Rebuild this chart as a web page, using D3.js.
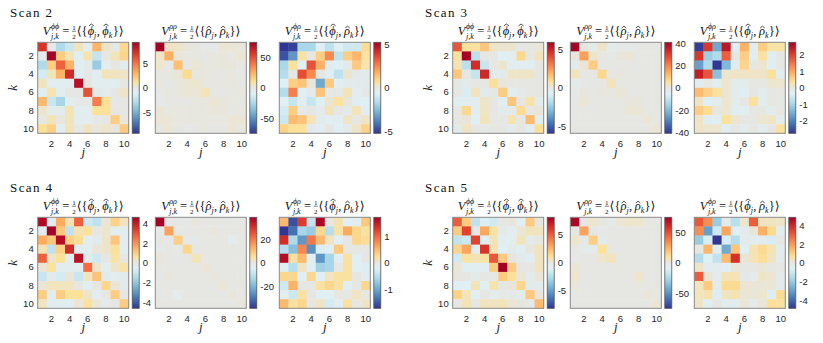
<!DOCTYPE html>
<html>
<head>
<meta charset="utf-8">
<script src="https://cdn.jsdelivr.net/npm/d3@7"></script>
<style>
body { margin: 0; background: #fff; }
svg text { fill: #262626; }
</style>
</head>
<body>
<div id="chart"></div>
<script>
// ---- data ----
const scanNames = ["Scan 2", "Scan 3", "Scan 4", "Scan 5"];
const pairLabels = [["ϕ", "ϕ"], ["ρ", "ρ"], ["ϕ", "ρ"]];
const idx = [1, 2, 3, 4, 5, 6, 7, 8, 9, 10];
const jTicks = [2, 4, 6, 8, 10];
const kTicks = [2, 4, 6, 8, 10];

const climScan2 = [9.3, 74, 5.2];
const climScan3 = [5.9, 41, 2.77];
const climScan4 = [4.6, 39, 1.7];
const climScan5 = [8.1, 74, 4.87];

const cbTicksScan2 = [[-5, 0, 5], [-50, 0, 50], [-5, 0, 5]];
const cbTicksScan3 = [[-5, 0, 5], [-40, -20, 0, 20, 40], [-2, -1, 0, 1, 2]];
const cbTicksScan4 = [[-4, -2, 0, 2, 4], [-20, 0, 20], [-1, 0, 1]];
const cbTicksScan5 = [[-5, 0, 5], [-50, 0, 50], [-4, -2, 0, 2, 4]];

const scan2PhiPhi = [
  [7.2, -0.3, -3, -2, 0.6, -0.9, 2.9, 0.5, -0.3, 1.6],
  [-0.4, 9.3, 2, 0.8, -1, 0.9, -2.2, 0, 0.7, 1.7],
  [-3, 2, 5.6, 3, -0.9, -0.4, -3.8, -0.8, 0, -0.7],
  [-1.6, 0.7, 3, 7.5, -1, -0.2, -0.9, 0.7, 0.6, 0.5],
  [0.6, -0.8, -0.9, -0.8, 8.6, 0.1, -0.8, -0.8, -0.8, 0],
  [-0.9, 0.9, -0.9, 0, 0, 6.2, -0.3, -0.6, 0, 0.5],
  [2.8, -2, -3.3, -0.8, -0.2, -0.2, 4.7, 1.3, -0.2, 0],
  [0.4, -0.7, -0.7, 0.8, -0.8, -0.8, 1.3, 1.3, 0, 0],
  [0, 0.7, 0.1, 0.7, -0.8, -0.8, -0.2, 0, 2, 0.1],
  [1.3, 1.9, -0.9, 0.7, -0.2, 0.6, 0.1, 0.4, 0.2, 2.1]
];
const scan2RhoRho = [
  [74, 4, 4, 1, 0.5, -2, -1.5, 2, 2, 0.5],
  [4, 25, 1, 0.5, 0.5, -0.5, 0.5, 1, 0.5, 2],
  [3, -2, 20, -1, 2, 0.5, 0.5, 1, 1, 0],
  [0, 0.5, 2, 12, 0.5, 0.5, 0.5, 0, 0.5, -2],
  [0.5, -1, 0.5, 2, 3, 0.5, 0, 0.5, 0.5, 0],
  [-1.5, 0.5, 0.5, 2, 2, 6, 0, 0, 0.5, 0.5],
  [-1.5, 0, 0, 0, 0.5, 0.5, 2, 1, 0.5, 0],
  [2, 0.5, 0.5, 0.5, 0.5, 0.5, 1, 1, 0, 0.5],
  [2, 2, 0.5, 0.5, 0.5, 0.5, 0.5, 0.5, 2, 2],
  [0.5, 2, 0, -2, 0, 0.5, 0, 0, 2, 0.5]
];
const scan2PhiRho = [
  [-5.2, -5, -1.8, -1.8, -0.6, -1.4, -0.6, -1, -1, 0.8],
  [-4.7, -3.4, 0.6, 0, 1.1, 2.4, -1.3, 1.1, 1.6, 0.6],
  [-1.8, 0.7, -0.7, 3.4, 1.7, -0.4, -0.6, -0.3, 1.2, 0.5],
  [-1.6, 0, 3.5, 2.4, 0, -0.6, -1.4, 0.2, -0.2, -0.3],
  [-0.7, 1.1, 1.3, 0.1, -3, 1.2, -0.6, -0.3, -0.3, -0.3],
  [-1.6, 2.6, -0.6, -0.3, 1.3, -0.2, 0, 0.4, -0.5, -0.1],
  [-0.6, -1.2, -0.5, -1.2, -0.7, 0.2, 0.6, 0.1, -0.5, -0.6],
  [-0.9, 1.1, -0.3, 0, -0.3, 0.4, 0, -0.3, 0.4, -0.5],
  [-1.1, 1.5, 1.3, 0.4, -0.3, -0.5, -0.5, 0.3, 0, 0.3],
  [1, 0.7, 0.7, -0.3, -0.5, 0, -0.6, -0.3, 0.3, 1]
];

const scan3PhiPhi = [
  [3.8, 0.7, 0.7, 1.4, 0.3, 0.2, 0.2, 0, 0, 0.1],
  [0.7, 5.9, -1.6, 0, 0, -0.7, -0.5, 1, 0, 0.4],
  [0.5, -1.6, 4.7, -1.3, 0, 0.2, -0.5, -0.5, -0.6, 0],
  [1.4, 0, -1.4, 4.8, -0.3, -0.3, 0.3, 0.3, 0.3, 0],
  [0, -0.3, 0, 0, 0.8, 0.1, 0, 0, 0, 0],
  [0, -0.9, 0.4, -0.3, 0, 1.3, -0.5, -0.3, 0, 0],
  [-0.5, -0.5, -0.6, 0.3, 0, -0.5, 1.4, 0, 0.6, -0.3],
  [0, 1, -0.5, 0.3, 0, -0.3, -0.3, 0.9, 0, 0.1],
  [0, 0.1, -0.7, 0.4, 0, 0, 0.5, 0, 1.7, -0.5],
  [-0.3, 0.3, 0, -0.2, 0, 0, -0.3, 0, -0.5, 0.8]
];
const scan3RhoRho = [
  [41, 0.5, -2, 2, -2, -1.5, -1.5, 0, 0, 0],
  [0.5, 16, 2, 0, -1, 0.5, 1, 0, 0, 0],
  [-2, 1, 9, 0, 0, 0, 0, -0.5, 0, 0],
  [3, 0, 0, 7, 0, 0.5, 0, 0, 0, 0],
  [-2, -1, 0, 0, 3, 0, 0, 0, 0, 0],
  [-1.5, 0.5, 0, 0.5, 0, 1, 0, 0, 0, 0],
  [-0.5, 1, 0, 0, 0, 0, 0.5, 0.5, 0, 0],
  [0, 0, -0.5, 0, 0, 0, 1, 1, 0, 0],
  [0, 0, 0, 0, 0, 0, 0, 0, 1, 0],
  [0, 0, 0, 0, 0, 0, 0, 0, 0, 1]
];
const scan3PhiRho = [
  [-2.7, 2.1, -1.6, 2.5, -0.3, 0.9, -0.3, 0.6, 0.3, 0.3],
  [2.1, -1.1, -0.9, 1.7, 0, 0.6, -0.3, 0.3, -0.3, 0],
  [-1.7, -0.9, -2.77, -1.4, -0.2, 0.5, 0, 0.1, -0.3, 0],
  [2.4, 1.8, -1.3, 0.1, 0.15, 0.15, 0.15, 0.15, 0.35, -0.3],
  [-0.2, 0, -0.3, 0.1, -0.2, -0.2, 0, 0, 0.1, 0.1],
  [0.8, 0.55, 0.35, 0.1, -0.2, -0.3, 0, -0.2, 0, 0],
  [0.15, -0.3, -0.2, 0.1, -0.2, 0, 0.35, -0.2, 0, 0],
  [0.6, 0.4, 0, 0.1, -0.3, -0.3, 0, 0, -0.2, 0],
  [0.15, -0.3, -0.3, 0.35, 0.1, 0, 0, 0.1, 0.15, -0.2],
  [0.15, 0.1, 0.1, -0.3, 0, -0.2, 0, -0.2, 0, 0.35]
];

const scan4PhiPhi = [
  [4.4, -0.5, 1.6, 0.4, 2.8, -0.9, -1.2, 0.1, 0.9, 0.3],
  [-0.5, 4.6, 1.1, -1.2, 0.4, 0.6, 0, 0.2, -0.4, -0.4],
  [1.6, 1.1, 4.3, 0.9, 0.7, -0.4, -0.3, 0.2, 1.1, -0.4],
  [0.4, -1.2, 0.9, 3.7, -0.4, -0.4, 0.1, 0.2, 0.6, -0.4],
  [2.8, 0.2, 0.6, -0.4, 4.2, -0.3, -0.9, 0, 0.5, 0],
  [0.1, 0.6, -0.4, -0.4, -0.4, 2.6, 0.2, -0.4, 0.2, 0.5],
  [-1, -0.3, -0.8, 0.1, -1, 0.3, 1.2, -0.3, -0.4, -0.3],
  [0.1, 0.3, 0.3, 0.3, 0, -0.4, 0, 0.8, 0.1, -0.3],
  [1, -0.4, 1, 0.6, 0.6, 0.2, -0.4, 0, 1, 0],
  [0.3, -0.4, -0.4, -0.5, 0.1, 0.6, 0.1, -0.2, 0, 1]
];
const scan4RhoRho = [
  [39, -1, 0, -1.5, 0.5, 0, 0, 0, -0.5, 0],
  [-1, 15, -1.5, 0, 0, 0, 0.5, 0, 0, 0],
  [0, -1.5, 8, -1.5, -1.5, 0, 0, 0, -2.5, 0],
  [-1.5, 0, -1.5, 7, 0, -0.5, 0, 0, 0, 0],
  [0.5, 0, -0.5, 0, 3, 0, 0, 0, 0, 0],
  [0, 0, 0, 0, 0, 1, 0, 0, 0, 0],
  [-0.5, 0.5, 0, 0, 0, 0, 0.5, 0, 0, 0],
  [0, 0, 0, 0, 0, 0, 0, 1, 0, 0],
  [-0.5, 0, -2.5, 0, 0, 0, 0, 0, 0.5, 0],
  [0, 0, 0, 0, 0, 0, 0, 0, 0, 0.5]
];
const scan4PhiRho = [
  [0.5, -1.55, 1.25, -0.4, 1.65, 0, 0.15, -0.2, -0.15, 0.4],
  [-1.7, -1.35, -0.6, -0.7, 0.3, -0.5, 0.2, 0.6, 0.3, 0.2],
  [1.35, -0.55, -1.1, 0.9, 0.5, 0.1, -0.2, 0, 0.3, 0.25],
  [-0.5, -0.8, 0.8, -1.15, -0.25, -0.2, 0.4, 0, 0, 0],
  [1.6, 0.2, 0.5, -0.2, -1.1, -0.6, -0.15, 0.2, -0.2, 0],
  [-0.15, -0.5, 0.1, -0.2, -0.65, -0.6, 0, 0.2, -0.2, -0.25],
  [0.3, 0.3, -0.2, 0.3, -0.2, 0.1, 0.2, 0.2, 0, -0.15],
  [-0.35, 0.55, 0, 0, 0.2, 0.3, 0.2, -0.2, 0, 0.3],
  [-0.15, -0.35, 0.2, 0, -0.2, -0.2, 0, 0, 0.1, 0],
  [0.5, 0.2, 0.3, 0, 0.1, -0.3, -0.15, 0.2, 0, 0.1]
];

const scan5PhiPhi = [
  [5, 1.8, -2, -1.2, -1.5, 0, 0.1, -0.9, 1.8, 0.1],
  [1.8, 5.8, -0.3, 2.9, 0.9, -0.4, -0.7, 0.2, 0.6, 0.5],
  [-2, -1.7, 5.8, -0.8, 0.6, -0.8, -0.8, 0.6, -0.4, 0],
  [1.5, 3, -0.7, 6.2, 0.7, -1, -0.4, -0.8, 0.1, 0.5],
  [-1.5, 0.9, 0.7, 0.9, 5.2, 1.8, 0.1, -0.4, -0.8, 0.5],
  [0.2, -0.8, -0.8, -0.8, 1.8, 8.1, 1.8, 0, 0, 0.5],
  [0.1, 0, -0.4, 0, -0.2, 1.8, 1.1, 0.2, -0.4, 0.2],
  [-1, -1, 0.6, -0.9, 0.8, 0, 0.1, 1.4, -0.4, -0.4],
  [1.6, 0.6, -1, 0, -0.6, -0.3, -0.3, -0.6, 1.9, 0.1],
  [0, 0.6, 0, 0.5, 0.5, 0.6, 0.2, 0.1, -0.3, 2.3]
];
const scan5RhoRho = [
  [72, 0, 3, 0.5, -3, 2, 3, 3, 0, 0],
  [0, 28, 0, -2, 0, 0, 0, 0, 0, 0],
  [3, -2, 16, -3, 0, 0, 0, 0, 0, 0],
  [0, -3, -4, 10, 0, 0, 0, 0, 0, 0],
  [-1.5, 0, 0, 3, 5, 0, 0, 0, 0, 0],
  [2, 0, 0, 0, 0, 0.5, 0, 0, 0, 0],
  [3, 0, 0, 0, 0, 0, 0, 3, 0, 0],
  [1, 0, 0, 0, 0, 0, 0, 0.5, 0, 0],
  [0, 0, 0, 0, 0, 0, 0, 0, 1.5, 0],
  [0, 0, 0, 0, 0, 0, 0, 0, 0, 2]
];
const scan5PhiRho = [
  [3.1, 2.2, -2, -0.2, -1.4, 0.2, 3, 0.3, 0.3, 0.25],
  [2.2, -3, -1, 1.8, -0.6, -0.4, 0.1, 1.6, 0.8, -0.5],
  [-2, -0.8, -4.87, -0.8, -1.5, -0.4, -0.4, -0.4, -0.8, 0],
  [0, 1.5, -0.5, -2.8, 1.2, -0.6, 0.4, 0.8, 0.4, -0.4],
  [-1.5, -0.6, -1.2, 1.4, 3.8, 0.1, 0.4, 0.7, 0.3, -0.4],
  [0.25, -0.4, -0.4, -0.6, 0.1, 0, 0, 0.1, 0, 0],
  [3, 0.15, -0.4, 0.4, 0.4, -0.1, -0.3, 0.25, 0.15, -0.2],
  [0.35, 1.1, -0.3, 0.8, 0.8, 0.15, 0.1, 0.1, 0.1, -0.2],
  [0.35, 0.45, -0.7, 0.3, 0.45, 0.1, 0.1, 0.15, -0.7, 0.8],
  [0.25, -0.5, 0, -0.4, -0.4, 0.1, -0.2, 0.1, 0.7, 0.6]
];

// diverging map, blue -> grey -> red
const cmapStops = [-1, -0.78, -0.56, -0.34, -0.13, 0, 0.13, 0.34, 0.56, 0.78, 1];
const cmapColors = ["#313695", "#4575b4", "#74add1", "#abd9e9", "#dff0f5", "#e6e6e3",
                    "#fbe29a", "#fdae61", "#f46d43", "#d73027", "#a50026"];

// ---- layout ----
const W = 823, H = 343;
const size = 91;
const panelLeft = [37.7, 155.3, 279.3];
const panelTop = 42.3;
const blockX = [0, 415, 0, 415];
const blockY = [0, 0, 175, 175];
const serif = "Liberation Serif, DejaVu Serif, serif";
const sans = "Liberation Sans, Arial, sans-serif";

const scans = [
  { name: scanNames[0], mats: [scan2PhiPhi, scan2RhoRho, scan2PhiRho], clim: climScan2, ticks: cbTicksScan2 },
  { name: scanNames[1], mats: [scan3PhiPhi, scan3RhoRho, scan3PhiRho], clim: climScan3, ticks: cbTicksScan3 },
  { name: scanNames[2], mats: [scan4PhiPhi, scan4RhoRho, scan4PhiRho], clim: climScan4, ticks: cbTicksScan4 },
  { name: scanNames[3], mats: [scan5PhiPhi, scan5RhoRho, scan5PhiRho], clim: climScan5, ticks: cbTicksScan5 }
];

const svg = d3.select("#chart").append("svg")
    .attr("width", W)
    .attr("height", H);

const defs = svg.append("defs");

const x = d3.scaleBand().domain(idx).range([0, size]);
const y = d3.scaleBand().domain(idx).range([0, size]);

function styleAxis(ax) {
  ax.select(".domain").remove();
  ax.selectAll("text")
    .attr("font-family", sans)
    .attr("font-size", 9.5)
    .style("fill", "#262626");
}

// title like V^{ab}_{j,k} = 1/2 <{a_j, b_k}>
function drawTitle(g, cx, base, a, b) {
  const t = g.append("g");
  const fs = 12.5, ss = 8;
  let cur = 0;
  function put(str, opt) {
    const el = t.append("text")
      .attr("x", cur)
      .attr("y", opt.dy || 0)
      .attr("font-family", serif)
      .attr("font-size", opt.size || fs)
      .attr("font-style", opt.italic ? "italic" : "normal")
      .style("fill", "#111")
      .text(str);
    return el.node().getComputedTextLength();
  }
  function hatted(ch, sub) {
    const w = put(ch, { italic: true });
    const top = ch === "ρ" ? -8.6 : -10.8;
    t.append("path")
      .attr("d", `M${cur + w * 0.2},${top + 1.8} L${cur + w * 0.58},${top} L${cur + w * 0.96},${top + 1.8}`)
      .attr("fill", "none")
      .attr("stroke", "#111")
      .attr("stroke-width", 0.75);
    cur += w;
    cur += put(sub, { italic: true, size: ss, dy: 2.8 }) + 0.3;
  }
  cur += put("V", { italic: true }) + 0.4;
  const ws = put(a + b, { italic: true, size: ss, dy: -5.6 });
  const wb = put("j,k", { italic: true, size: ss, dy: 3.9 });
  cur += Math.max(ws, wb) + 3;
  cur += put("=", {}) + 3;
  const f1 = put("1", { size: 7, dy: -5.2 });
  put("2", { size: 7, dy: 4.6 });
  t.append("line")
    .attr("x1", cur - 0.3).attr("x2", cur + f1 + 0.3)
    .attr("y1", -3.6).attr("y2", -3.6)
    .attr("stroke", "#111").attr("stroke-width", 0.55);
  cur += f1 + 1;
  cur += put("⟨{", {});
  hatted(a, "j");
  cur += put(",", {}) + 2.5;
  hatted(b, "k");
  cur += put("}⟩", {});
  t.attr("transform", `translate(${cx - cur / 2},${base})`);
}

scans.forEach((scan, si) => {
  const g = svg.append("g")
      .attr("transform", `translate(${blockX[si]},${blockY[si]})`);

  g.append("text")
      .attr("x", 10)
      .attr("y", 16.5)
      .attr("font-family", serif)
      .attr("font-size", 13)
      .attr("letter-spacing", 1.4)
      .style("fill", "#111")
      .text(scan.name);

  scan.mats.forEach((mat, pi) => {
    const clim = scan.clim[pi];
    const color = d3.scaleLinear()
        .domain(cmapStops.map(s => s * clim))
        .range(cmapColors)
        .clamp(true);

    const pg = g.append("g")
        .attr("transform", `translate(${panelLeft[pi]},${panelTop})`);

    const cells = mat.flatMap((row, ki) => row.map((v, ji) => ({ j: idx[ji], k: idx[ki], v: v })));

    pg.selectAll("rect.cell")
      .data(cells)
      .enter()
      .append("rect")
      .attr("class", "cell")
      .attr("x", d => x(d.j))
      .attr("y", d => y(d.k))
      .attr("width", x.bandwidth() + 0.4)
      .attr("height", y.bandwidth() + 0.4)
      .attr("fill", d => color(d.v));

    pg.append("rect")
      .attr("width", size)
      .attr("height", size)
      .attr("fill", "none")
      .attr("stroke", "#8a8a8a")
      .attr("stroke-width", 1);

    const xa = pg.append("g")
        .attr("transform", `translate(0,${size})`)
        .call(d3.axisBottom(x).tickValues(jTicks).tickSize(0).tickPadding(6.5));
    styleAxis(xa);

    if (pi === 0) {
      const ya = pg.append("g")
          .call(d3.axisLeft(y).tickValues(kTicks).tickSize(0).tickPadding(4));
      styleAxis(ya);
      pg.append("text")
        .attr("transform", `translate(${16.5 - panelLeft[0]},${size / 2}) rotate(-90)`)
        .attr("text-anchor", "middle")
        .attr("font-family", serif)
        .attr("font-style", "italic")
        .attr("font-size", 13)
        .text("k");
    }

    pg.append("text")
      .attr("x", size / 2)
      .attr("y", size + 22.5)
      .attr("text-anchor", "middle")
      .attr("font-family", serif)
      .attr("font-style", "italic")
      .attr("font-size", 13)
      .text("j");

    drawTitle(pg, size / 2, -7.5, pairLabels[pi][0], pairLabels[pi][1]);

    // colorbar
    const gid = `cb${si}${pi}`;
    const grad = defs.append("linearGradient")
        .attr("id", gid)
        .attr("x1", 0).attr("y1", 1).attr("x2", 0).attr("y2", 0);
    d3.range(0, 1.0001, 0.02).forEach(t => {
      grad.append("stop")
        .attr("offset", t)
        .attr("stop-color", color(-clim + 2 * clim * t));
    });

    const cb = pg.append("g").attr("transform", `translate(${size + 3.5},0)`);
    cb.append("rect")
      .attr("width", 7)
      .attr("height", size)
      .attr("fill", `url(#${gid})`)
      .attr("stroke", "#555")
      .attr("stroke-width", 0.8);

    const cbScale = d3.scaleLinear().domain([-clim, clim]).range([size, 0]);
    const ca = cb.append("g")
        .attr("transform", "translate(7,0)")
        .call(d3.axisRight(cbScale).tickValues(scan.ticks[pi]).tickFormat(d => String(d)).tickSize(0).tickPadding(3.5));
    styleAxis(ca);
  });
});
</script>
</body>
</html>
